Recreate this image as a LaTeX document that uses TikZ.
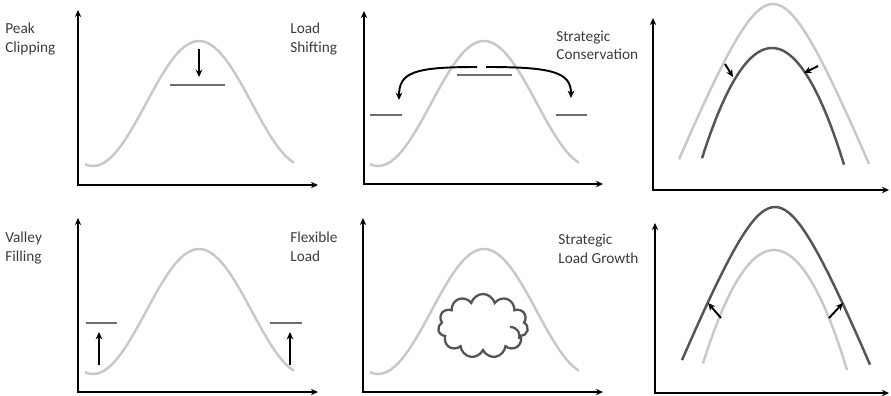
\documentclass[tikz,border=0pt]{standalone}
\usepackage{fontspec}
\setmainfont{Carlito}
\usetikzlibrary{
    arrows.meta,
    shapes.symbols
}
\definecolor{CurveLight}{RGB}{200,200,200}
\definecolor{CurveDark}{RGB}{85,85,85}
\definecolor{LevelGray}{RGB}{110,110,110}
\definecolor{LabelGray}{RGB}{60,60,60}
\tikzset{
  axes/.style    = {{Stealth[length=4pt,width=3.6pt]}-{Stealth[length=4pt,width=3.6pt]},
                    line width=1.1pt, black},
  base/.style    = {CurveLight, line width=1.4pt},
  shifted/.style = {CurveDark, line width=1.4pt},
  level/.style   = {LevelGray, line width=1.5pt},
  move/.style    = {-{Stealth[length=4.2pt,width=3.8pt]}, line width=1.1pt, black},
  lbl/.style     = {anchor=base west, inner sep=0pt, align=left, text=LabelGray,
                    font=\fontsize{8.7}{10.6}\selectfont}
}
% daily load curve: centre x, bottom y
\newcommand{\bell}[2]{\draw[base] plot[domain=-114:95, samples=70]
  ({#1+\x},{#2-62.5*(1+cos(\x/106*180))});}

\begin{document}
\begin{tikzpicture}[x=0.02cm, y=-0.02cm]
    \useasboundingbox (0,0) rectangle (891,395);

    % labels (base = last line)
    \node[lbl] (peak)   at (5,52)   {Peak\\Clipping};
    \node[lbl] (shift)  at (290,52) {Load\\Shifting};
    \node[lbl] (cons)   at (556,60) {Strategic\\Conservation};
    \node[lbl] (valley) at (5,261)  {Valley\\Filling};
    \node[lbl] (flex)   at (290,261) {Flexible\\Load};
    \node[lbl] (growth) at (558,263) {Strategic\\Load Growth};

    % axes
    \foreach \ox/\oy/\ty/\rx in {78/185/10/318, 364/184/11/603, 653/190/18/889,
                                 78/392/218/318, 363/392/218/603, 655/393/223/889}
      \draw[axes] (\ox,\ty) -- (\ox,\oy) -- (\rx,\oy);

    % peak clipping
    \bell{199}{166}
    \draw[level] (170,85) -- (225,85);
    \draw[move] (199,49) -- (199,77);

    % load shifting
    \bell{484}{166}
    \draw[level] (457,75) -- (512,75);
    \draw[level] (370,115) -- (402,115);
    \draw[level] (556,115) -- (587,115);
    \draw[move] (477,67) .. controls (415,67) and (399,72) .. (399,100);
    \draw[move] (486,67) .. controls (552,67) and (571,72) .. (571,98);

    % strategic conservation
    \draw[base] plot[domain=-94:96, samples=70] ({773+\x},{4+100*(sqrt(1+(\x/40)^2)-1)});
    \draw[shifted] plot[domain=-70:72, samples=70] ({772+\x},{48+0.0225*\x*\x});
    \draw[move] (725,64) -- (733,77);
    \draw[move] (818,66) -- (804,73);

    % valley filling
    \bell{199}{374}
    \draw[level] (86,323) -- (117,323);
    \draw[level] (270,323) -- (302,323);
    \draw[move] (99,365) -- (99,332);
    \draw[move] (290,365) -- (290,332);

    % flexible load
    \bell{484}{374}
    \node[cloud, cloud puffs=11, cloud ignores aspect, draw=CurveDark, fill=white,
          line width=1.3pt, minimum width=1.8cm, minimum height=1.28cm,
          inner sep=0pt] (cloud) at (483,326) {};
    \draw[CurveDark, line width=1.3pt] (510,327) .. controls (517,327) and (521,333) .. (519,339);

    % strategic load growth
    \draw[shifted] plot[domain=-93:95, samples=70] ({775+\x},{207+100*(sqrt(1+(\x/40)^2)-1)});
    \draw[base] plot[domain=-71:73, samples=70] ({774+\x},{250+0.0225*\x*\x});
    \draw[move] (721,318) -- (708,303);
    \draw[move] (829,318) -- (843,303);
\end{tikzpicture}
\end{document}
